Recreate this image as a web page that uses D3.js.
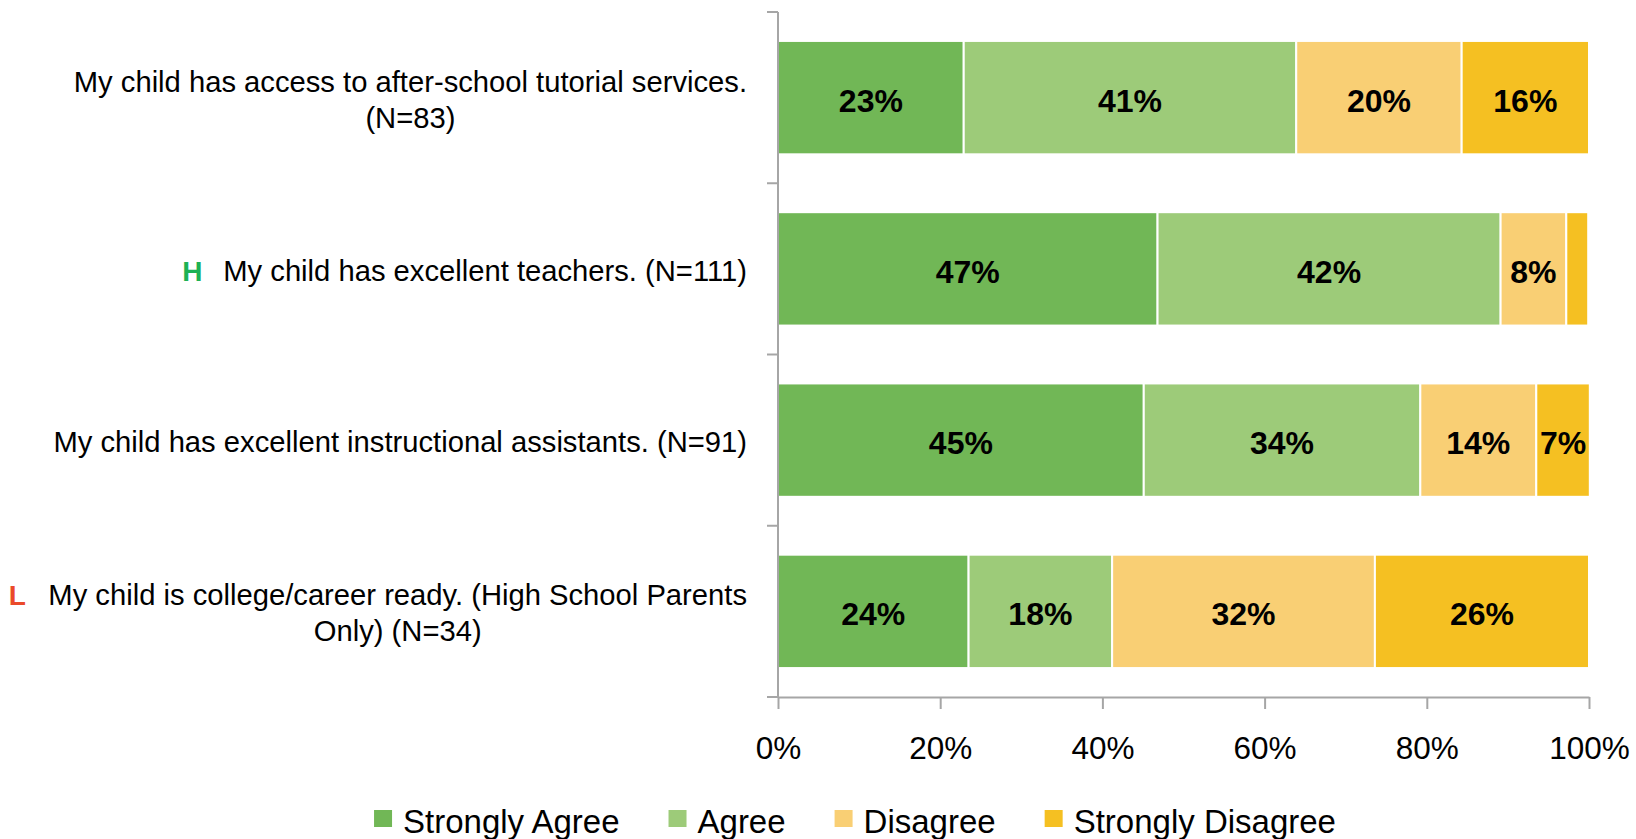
<!DOCTYPE html>
<html>
<head>
<meta charset="utf-8">
<script src="https://cdn.jsdelivr.net/npm/d3@7"></script>
<style>
  html, body { margin: 0; padding: 0; background: #ffffff; }
  svg { display: block; }
  text { font-family: "Liberation Sans", Arial, sans-serif; fill: #000; }
</style>
</head>
<body>
<svg id="chart" width="1636" height="839"></svg>
<script>
// ---- Data ----
const categories = [
  ["My child has access to after-school tutorial services.", "(N=83)"],
  ["My child has excellent teachers. (N=111)"],
  ["My child has excellent instructional assistants. (N=91)"],
  ["My child is college/career ready. (High School Parents", "Only) (N=34)"]
];
const categoryKeys = ["after-school", "teachers", "assistants", "college"];
const markers = ["", "H", "", "L"];
const seriesNames = ["Strongly Agree", "Agree", "Disagree", "Strongly Disagree"];
const stronglyAgree = [22.9, 46.8, 45.1, 23.5];
const agree = [41.0, 42.3, 34.1, 17.7];
const disagree = [20.4, 8.1, 14.3, 32.4];
const stronglyDisagree = [15.7, 2.7, 6.6, 26.4];
const xTicks = [0, 20, 40, 60, 80, 100];

// ---- Styles ----
const colors = ["#71b756", "#9dcb79", "#f9cf74", "#f5c022"];
const markerColors = { H: "#1db153", L: "#ea4a2a" };
const axisColor = "#a6a6a6";

const svg = d3.select("#chart");
const plotLeft = 778, plotRight = 1589, plotTop = 12, plotBottom = 697;

const x = d3.scaleLinear().domain([0, 100]).range([plotLeft, plotRight]);
const pad = 0.338;
const y = d3.scaleBand().domain(categoryKeys).range([plotTop, plotBottom])
  .paddingInner(pad).paddingOuter(pad / 2);

const seriesValues = [stronglyAgree, agree, disagree, stronglyDisagree];
const rows = categoryKeys.map((k, i) => {
  const r = { key: k };
  seriesNames.forEach((s, j) => r[s] = seriesValues[j][i]);
  return r;
});
const stack = d3.stack().keys(seriesNames)(rows);

// Bars
const g = svg.append("g");
stack.forEach((layer, j) => {
  g.selectAll(null).data(layer).enter().append("rect")
    .attr("x", d => x(d[0]))
    .attr("y", d => y(d.data.key))
    .attr("width", d => x(d[1]) - x(d[0]))
    .attr("height", y.bandwidth())
    .attr("fill", colors[j])
    .attr("stroke", "#ffffff")
    .attr("stroke-width", 2);
});
stack.forEach((layer, j) => {
  g.selectAll(null).data(layer.filter(d => d[1] - d[0] >= 5)).enter().append("text")
    .attr("x", d => (x(d[0]) + x(d[1])) / 2)
    .attr("y", d => y(d.data.key) + y.bandwidth() / 2 + 14)
    .attr("text-anchor", "middle")
    .attr("font-weight", "bold")
    .attr("font-size", 32)
    .text(d => Math.round(d.data[seriesNames[j]]) + "%");
});

// Y axis (ticks at band boundaries)
const boundaries = d3.range(categoryKeys.length + 1).map(i => plotTop + i * y.step());
svg.append("line").attr("x1", plotLeft).attr("x2", plotLeft).attr("y1", plotTop).attr("y2", plotBottom)
  .attr("stroke", axisColor).attr("stroke-width", 2);
svg.selectAll(null).data(boundaries).enter().append("line")
  .attr("x1", plotLeft - 11).attr("x2", plotLeft).attr("y1", d => d).attr("y2", d => d)
  .attr("stroke", axisColor).attr("stroke-width", 2);

// X axis
const xAxis = svg.append("g").attr("transform", `translate(0,${plotBottom})`)
  .call(d3.axisBottom(x).tickValues(xTicks).tickFormat(d => d + "%").tickSize(12).tickSizeOuter(0));
xAxis.select(".domain").attr("stroke", axisColor).attr("stroke-width", 2);
xAxis.selectAll(".tick line").attr("stroke", axisColor).attr("stroke-width", 2);
xAxis.selectAll(".tick text")
  .attr("y", 62).attr("dy", 0)
  .attr("font-family", "Liberation Sans, Arial, sans-serif")
  .attr("font-size", 31.5).attr("fill", "#000");

// Category labels
const labelRight = 747;
const lineH = 36;
categoryKeys.forEach((k, i) => {
  const lines = categories[i];
  const cy = y(k) + y.bandwidth() / 2;
  const grp = svg.append("g");
  const texts = lines.map((ln, li) => grp.append("text")
    .attr("font-size", 29.2)
    .attr("y", cy + 12 - (lines.length - 1) * lineH / 2 + li * lineH)
    .attr("text-anchor", "middle")
    .text(ln));
  const widths = texts.map(t => t.node().getComputedTextLength());
  const w = d3.max(widths);
  const center = labelRight - w / 2;
  texts.forEach(t => t.attr("x", center));
  if (markers[i]) {
    const lineY = cy + 12 - (lines.length - 1) * lineH / 2;
    const mx = labelRight - w - 31;
    svg.append("text")
      .attr("x", mx).attr("y", lineY)
      .attr("text-anchor", "middle")
      .attr("font-weight", "bold")
      .attr("font-size", 28)
      .style("fill", markerColors[markers[i]])
      .text(markers[i]);
  }
});

// Legend
const legend = svg.append("g");
let lx = 0;
const legendGap = 49;
seriesNames.forEach((s, j) => {
  const it = legend.append("g").attr("transform", `translate(${lx},0)`);
  it.append("rect").attr("x", 0).attr("y", 810).attr("width", 18).attr("height", 17).attr("fill", colors[j]);
  const t = it.append("text").attr("x", 29).attr("y", 833).attr("font-size", 33).text(s);
  lx += 29 + t.node().getComputedTextLength() + legendGap;
});
const legendW = lx - legendGap;
legend.attr("transform", `translate(${855 - legendW / 2},0)`);
</script>
</body>
</html>
